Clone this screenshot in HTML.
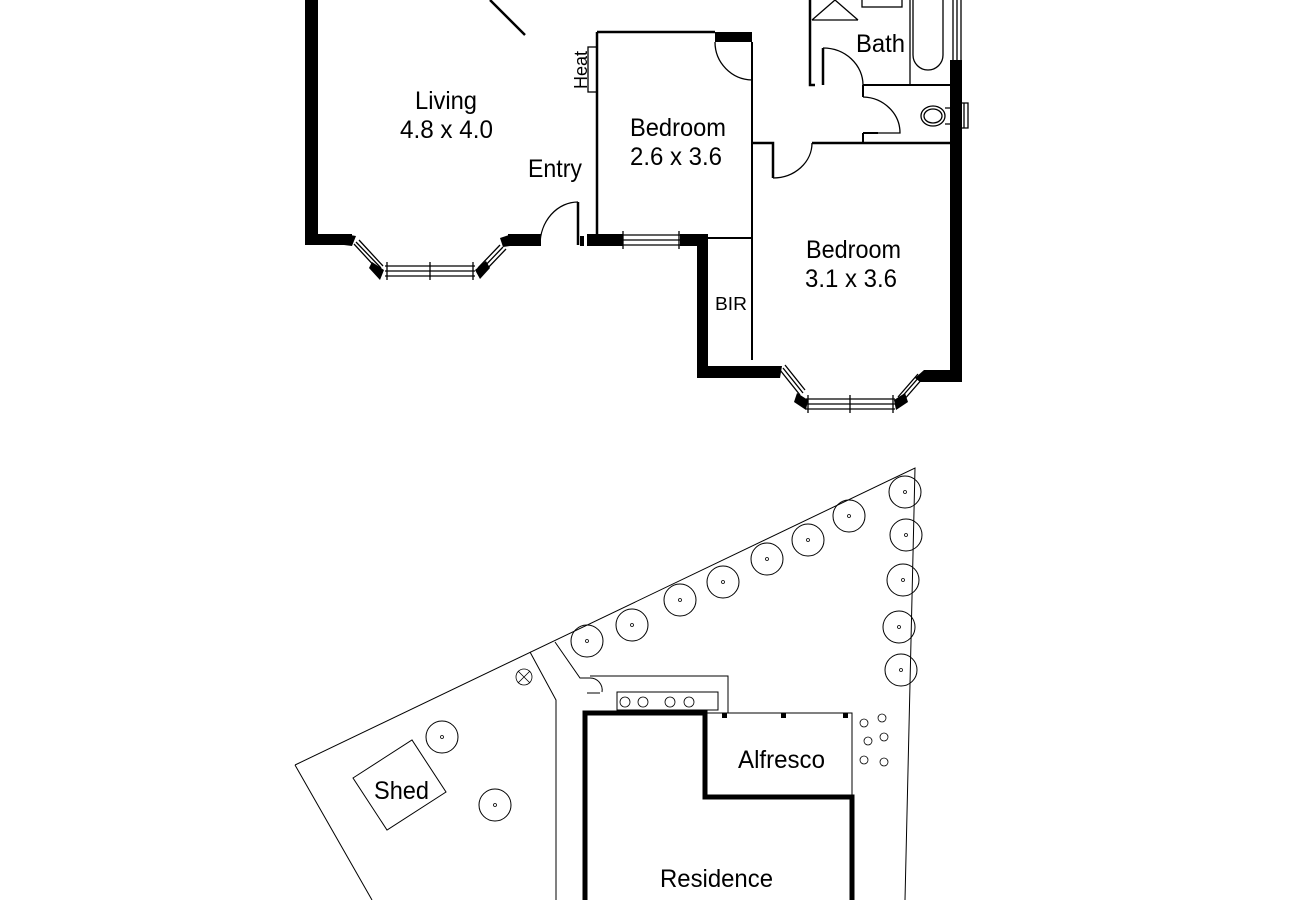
<!DOCTYPE html>
<html><head><meta charset="utf-8"><style>
html,body{margin:0;padding:0;background:#fff;}
svg{display:block;}
text{font-family:"Liberation Sans Narrow","Liberation Sans",sans-serif;fill:#000;}
</style></head><body>
<svg width="1300" height="900" viewBox="0 0 1300 900" xmlns="http://www.w3.org/2000/svg">
<g fill="#000" stroke="none">
<rect x="305" y="0" width="13" height="245"/>
<rect x="305" y="234" width="47" height="11"/>
<polygon points="344,234 356,236 352,246 344,245"/>
<polygon points="372,262 384,270 380,280 369,268"/>
<polygon points="475,270 486,261 490,268 480,279"/>
<polygon points="500,238 512,234 510,246 503,247"/>
<rect x="508" y="234" width="33" height="12"/>
<rect x="580" y="236" width="4" height="10"/>
<rect x="587" y="234" width="36" height="12"/>
<rect x="680" y="234" width="28" height="12"/>
<rect x="697" y="234" width="11" height="144"/>
<rect x="697" y="366" width="80" height="12"/>
<polygon points="772,366 782,366 780,378 772,378"/>
<polygon points="797,393 808,400 806,410 794,402"/>
<polygon points="894,400 905,393 908,402 896,410"/>
<polygon points="915,378 924,370 962,370 962,382 920,382"/>
<rect x="950" y="60" width="12" height="322"/>
<rect x="715" y="32" width="37" height="10"/>
<rect x="722" y="713" width="5" height="5"/><rect x="781" y="713" width="5" height="5"/><rect x="843" y="713" width="5" height="5"/>
</g>
<g fill="none" stroke="#000" stroke-width="1.3">
<path d="M354,244 L378,270 M359,240 L383,266 M356,242 L381,268"/>
<path d="M385,266 H475 M385,271 H475 M385,276 H475 M387,262 V280 M430,262 V280 M473,262 V280"/>
<path d="M478,268 L500,245 M484,272 L506,249 M481,270 L503,247"/>
<path d="M623,235 H680 M623,240 H680 M623,245 H680 M623,231 V249 M679,231 V249"/>
<path d="M780,370 L800,395 M785,365 L805,390 M783,368 L803,393"/>
<path d="M806,399 H895 M806,404 H895 M806,409 H895 M808,395 V413 M850,395 V413 M893,395 V413"/>
<path d="M898,397 L918,374 M903,401 L923,378 M900,399 L920,376"/>
<path d="M953,0 V60 M957,0 V60 M961,0 V60"/>
<path d="M960,103 H968 V128 H960 M964,103 V128"/>
<path d="M490,0 L525,35" stroke-width="2.5"/>
<path d="M578,202 V245" stroke-width="2.5"/>
<path d="M540,245 A38,43 0 0 1 578,202"/>
<path d="M597,32 V234 M597,32 H715" stroke-width="2.5"/>
<path d="M752,42 V80 M752,80 V360" stroke-width="2"/>
<path d="M715,42 A38,38 0 0 0 752,80"/>
<path d="M697,238 H752" stroke-width="2"/>
<rect x="588" y="47" width="9" height="45"/>
<path d="M752,143 H773 V178 M812,143 H950" stroke-width="2.5"/>
<path d="M773,178 A39,35 0 0 0 812,143"/>
<path d="M810,0 V85 H815 M823,85 V48" stroke-width="2.5"/>
<path d="M823,48 A40,37 0 0 1 863,85"/>
<path d="M863,85 H950 M863,85 V97 M863,133 V143 M863,133 H878" stroke-width="2"/>
<path d="M863,97 A38,36 0 0 1 900,133 H878"/>
<path d="M910,0 V85"/>
<rect x="913" y="-20" width="30" height="90" rx="15"/>
<path d="M812,20 H858 M812,20 L835,0 L858,20"/>
<rect x="862" y="-5" width="40" height="12"/>
<ellipse cx="933" cy="116" rx="12" ry="10"/><ellipse cx="933" cy="116" rx="9" ry="7"/>
<path d="M945,108 H950 M945,124 H950"/>
</g>
<g font-size="25">
<text x="415" y="109" textLength="62" lengthAdjust="spacingAndGlyphs">Living</text>
<text x="400" y="138" textLength="93" lengthAdjust="spacingAndGlyphs">4.8 x 4.0</text>
<text x="528" y="177" textLength="54" lengthAdjust="spacingAndGlyphs">Entry</text>
<text x="630" y="136" textLength="96" lengthAdjust="spacingAndGlyphs">Bedroom</text>
<text x="630" y="165" textLength="92" lengthAdjust="spacingAndGlyphs">2.6 x 3.6</text>
<text x="856" y="52" textLength="49" lengthAdjust="spacingAndGlyphs">Bath</text>
<text x="806" y="258" textLength="95" lengthAdjust="spacingAndGlyphs">Bedroom</text>
<text x="805" y="287" textLength="92" lengthAdjust="spacingAndGlyphs">3.1 x 3.6</text>
<text x="374" y="799" textLength="55" lengthAdjust="spacingAndGlyphs">Shed</text>
<text x="738" y="768" textLength="87" lengthAdjust="spacingAndGlyphs">Alfresco</text>
<text x="660" y="887" textLength="113" lengthAdjust="spacingAndGlyphs">Residence</text>
</g>
<text x="715" y="310" font-size="18" textLength="32" lengthAdjust="spacingAndGlyphs">BIR</text>
<text x="581" y="70" font-size="18" text-anchor="middle" transform="rotate(-90 581 70)" dy="6">Heat</text>

<g fill="none" stroke="#000" stroke-width="1">
<path d="M295,765 L915,468 L905,900 M295,765 L372,900"/>
<path d="M530,652 L556,700 V900 M555,642 L580,678 H590"/>
<path d="M590,678 A12,12 0 0 1 602,692 M587,693 H600"/>
<path d="M590,676 H728 V713 M705,713 H852 V797"/>
<rect x="617" y="692" width="101" height="18"/>
<polygon points="353,778 412,740 446,792 387,830"/>
</g>
<path d="M585,900 V713 H705 V797 H852 V900" fill="none" stroke="#000" stroke-width="5"/>
<g fill="none" stroke="#000" stroke-width="1">
<circle cx="442" cy="737" r="16"/><circle cx="495" cy="805" r="16"/>
<circle cx="587" cy="641" r="16"/><circle cx="632" cy="625" r="16"/>
<circle cx="680" cy="600" r="16"/><circle cx="723" cy="582" r="16"/>
<circle cx="767" cy="559" r="16"/><circle cx="808" cy="540" r="16"/>
<circle cx="849" cy="516" r="16"/><circle cx="905" cy="492" r="16"/>
<circle cx="906" cy="535" r="16"/><circle cx="903" cy="580" r="16"/>
<circle cx="899" cy="627" r="16"/><circle cx="901" cy="670" r="16"/>
<g stroke-width="0.8">
<circle cx="442" cy="737" r="1.5"/><circle cx="495" cy="805" r="1.5"/>
<circle cx="587" cy="641" r="1.5"/><circle cx="632" cy="625" r="1.5"/>
<circle cx="680" cy="600" r="1.5"/><circle cx="723" cy="582" r="1.5"/>
<circle cx="767" cy="559" r="1.5"/><circle cx="808" cy="540" r="1.5"/>
<circle cx="849" cy="516" r="1.5"/><circle cx="905" cy="492" r="1.5"/>
<circle cx="906" cy="535" r="1.5"/><circle cx="903" cy="580" r="1.5"/>
<circle cx="899" cy="627" r="1.5"/><circle cx="901" cy="670" r="1.5"/>
<circle cx="625" cy="702" r="5"/><circle cx="643" cy="702" r="5"/>
<circle cx="670" cy="702" r="5"/><circle cx="689" cy="702" r="5"/>
<circle cx="864" cy="723" r="4"/><circle cx="882" cy="718" r="4"/>
<circle cx="868" cy="741" r="4"/><circle cx="884" cy="737" r="4"/>
<circle cx="864" cy="760" r="4"/><circle cx="884" cy="762" r="4"/>
<circle cx="524" cy="677" r="8"/>
<path d="M518,671 L530,683 M530,671 L518,683"/>
</g>
</g>
</svg>
</body></html>
